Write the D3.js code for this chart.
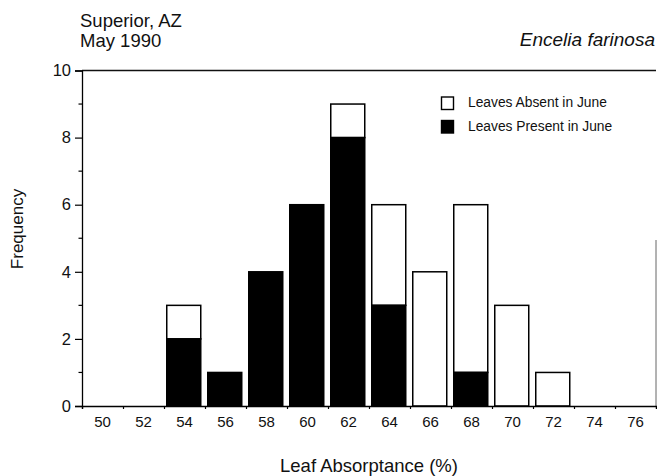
<!DOCTYPE html>
<html>
<head>
<meta charset="utf-8">
<script src="https://cdn.jsdelivr.net/npm/d3@7/dist/d3.min.js"></script>
<style>
  html, body { margin: 0; padding: 0; background: #fff; }
  svg { display: block; font-family: "Liberation Sans", Arial, Helvetica, sans-serif; }
</style>
</head>
<body>
<svg id="chart" width="657" height="476"></svg>
<script>
// ---- data ----
const categories = [50, 52, 54, 56, 58, 60, 62, 64, 66, 68, 70, 72, 74, 76];
const leavesPresent = [0, 0, 2, 1, 4, 6, 8, 3, 0, 1, 0, 0, 0, 0];
const leavesAbsent  = [0, 0, 1, 0, 0, 0, 1, 3, 4, 5, 3, 1, 0, 0];
const yTickLabels = [0, 2, 4, 6, 8, 10];
const yMinorTicks = [1, 3, 5, 7, 9];
const seriesNames = ["Leaves Absent in June", "Leaves Present in June"];

const svg = d3.select("#chart");
const plotLeft = 82, plotRight = 656, plotTop = 70.5, plotBottom = 406;

const x = d3.scaleLinear().domain([49, 77]).range([plotLeft, plotRight]);
const y = d3.scaleLinear().domain([0, 10]).range([plotBottom, plotTop]);

// frame lines
svg.append("line").attr("x1", plotLeft).attr("x2", plotRight).attr("y1", plotTop).attr("y2", plotTop)
  .attr("stroke", "#111").attr("stroke-width", 1.3);
svg.append("line").attr("x1", plotRight).attr("x2", plotRight).attr("y1", 240).attr("y2", plotBottom)
  .attr("stroke", "#666").attr("stroke-width", 1);

// bars
const binW = x(51) - x(49);
const data = categories.map((c, i) => ({c, p: leavesPresent[i], a: leavesAbsent[i]}));
const g = svg.append("g");
data.forEach(d => {
  const x0 = x(d.c - 1) + 2.75, w = binW - 7;
  if (d.p + d.a > 0) {
    if (d.a > 0) {
      g.append("rect").attr("x", x0).attr("width", w)
        .attr("y", y(d.p + d.a)).attr("height", y(d.p) - y(d.p + d.a))
        .attr("fill", "#fff").attr("stroke", "#000").attr("stroke-width", 1.5);
    }
    if (d.p > 0) {
      g.append("rect").attr("x", x0).attr("width", w)
        .attr("y", y(d.p)).attr("height", y(0) - y(d.p))
        .attr("fill", "#000").attr("stroke", "#000").attr("stroke-width", 1.5);
    }
  }
});

// x axis
const xAxis = svg.append("g").attr("transform", `translate(0,${plotBottom})`)
  .call(d3.axisBottom(x).tickValues(d3.range(49, 78, 2)).tickSize(3).tickFormat(""));
xAxis.select(".domain").attr("stroke", "#000").attr("stroke-width", 1.3);
xAxis.selectAll(".tick line").attr("stroke", "#000").attr("stroke-width", 1.2);
svg.append("g").selectAll("text").data(categories).join("text")
  .attr("x", d => x(d)).attr("y", 427).attr("text-anchor", "middle")
  .attr("font-size", 15).attr("fill", "#111").text(d => d);

// y axis
const yAxis = svg.append("g").attr("transform", `translate(${plotLeft},0)`)
  .call(d3.axisLeft(y).tickValues(yTickLabels).tickSize(7).tickPadding(4).tickFormat(d => d));
yAxis.select(".domain").attr("stroke", "#000").attr("stroke-width", 1.3);
yAxis.selectAll(".tick line").attr("stroke", "#000").attr("stroke-width", 1.2);
yAxis.selectAll(".tick text").attr("font-size", 16.5).attr("fill", "#111")
  .attr("font-family", "Liberation Sans, Arial, sans-serif");
svg.append("g").selectAll("line").data(yMinorTicks).join("line")
  .attr("x1", plotLeft - 3.5).attr("x2", plotLeft).attr("y1", d => y(d)).attr("y2", d => y(d))
  .attr("stroke", "#000").attr("stroke-width", 1.2);

// titles
svg.append("text").attr("x", 80).attr("y", 26.5).attr("font-size", 18.5).attr("fill", "#111").text("Superior, AZ");
svg.append("text").attr("x", 80).attr("y", 46.5).attr("font-size", 18.5).attr("fill", "#111").text("May 1990");
svg.append("text").attr("x", 655).attr("y", 46).attr("text-anchor", "end").attr("font-size", 19)
  .attr("font-style", "italic").attr("fill", "#111").text("Encelia farinosa");

// axis titles
svg.append("text").attr("x", 369).attr("y", 472).attr("text-anchor", "middle")
  .attr("font-size", 18.5).attr("fill", "#111").text("Leaf Absorptance (%)");
svg.append("text").attr("transform", "translate(23,229) rotate(-90)").attr("text-anchor", "middle")
  .attr("font-size", 17).attr("fill", "#111").text("Frequency");

// legend
const legend = svg.append("g");
seriesNames.forEach((name, i) => {
  const ly = 97 + i * 23.5;
  legend.append("rect").attr("x", 441.5).attr("y", ly).attr("width", 12).attr("height", 12.5)
    .attr("fill", i === 0 ? "#fff" : "#000").attr("stroke", "#000").attr("stroke-width", 1.4);
  legend.append("text").attr("x", 468).attr("y", ly + 10).attr("font-size", 13.8)
    .attr("fill", "#111").text(name);
});
</script>
</body>
</html>
